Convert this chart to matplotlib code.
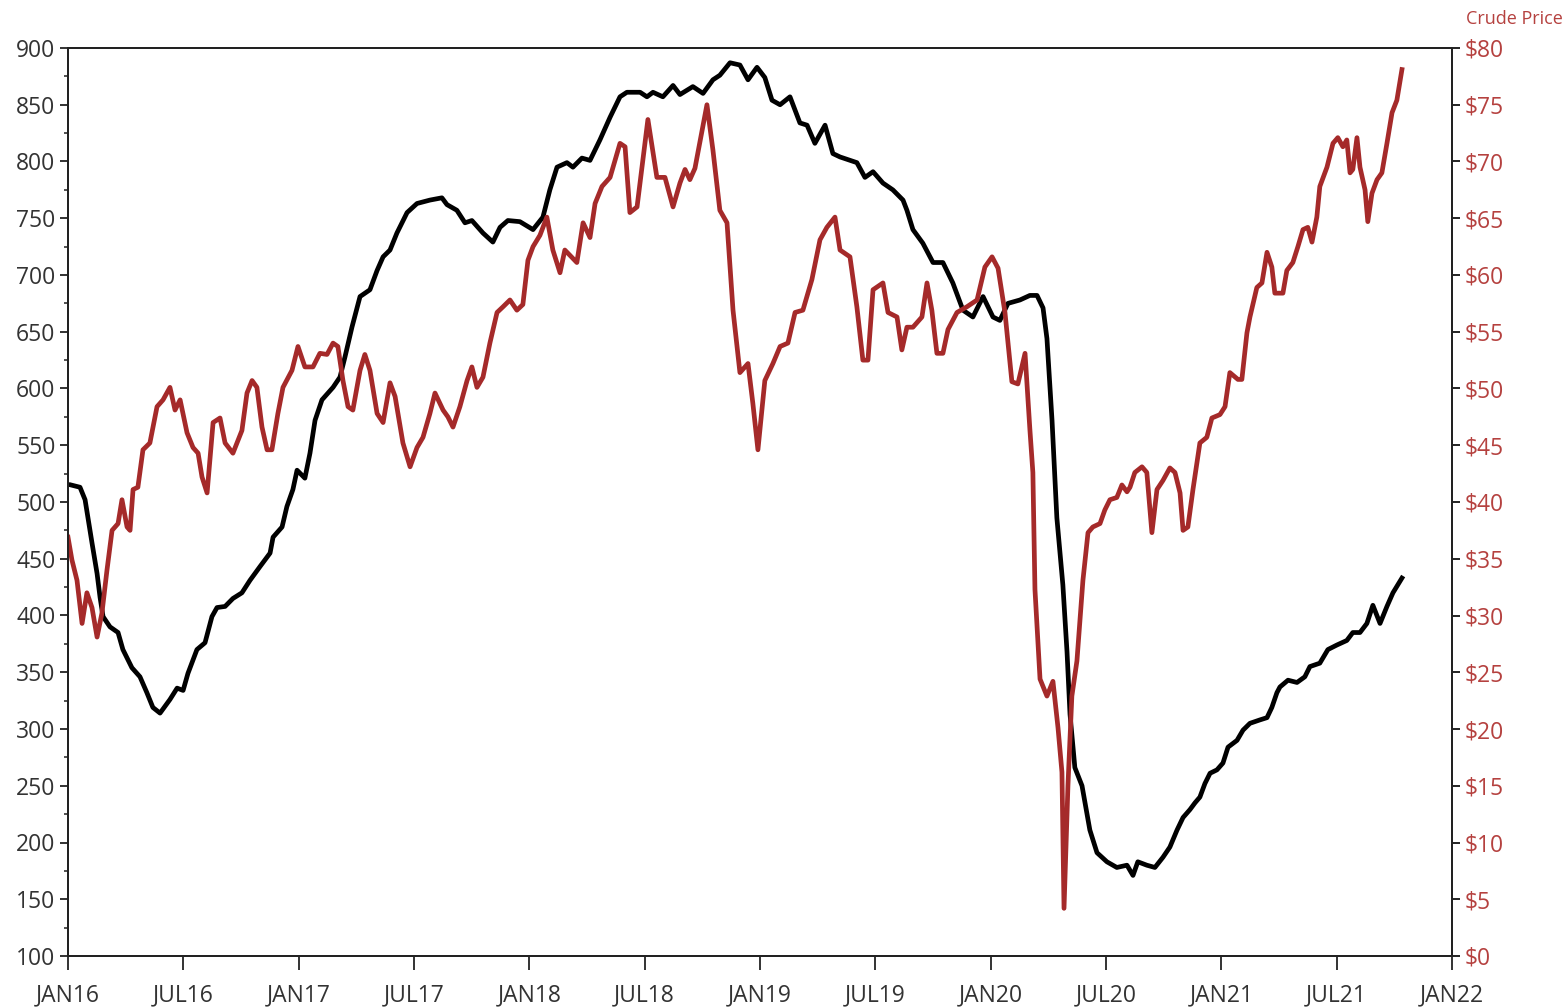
import matplotlib
matplotlib.use("Agg")
import matplotlib.pyplot as plt
from matplotlib.ticker import MultipleLocator, FuncFormatter

plt.rcParams['font.family'] = ['Open Sans', 'DejaVu Sans']

# ---- data (decimal year, value) ----
rig_t = [2016.013, 2016.052, 2016.074, 2016.104, 2016.126, 2016.139, 2016.152, 2016.182, 2016.217, 2016.238,
         2016.277, 2016.312, 2016.342, 2016.368, 2016.399, 2016.442, 2016.473, 2016.499, 2016.520, 2016.559,
         2016.594, 2016.624, 2016.646, 2016.681, 2016.715, 2016.754, 2016.789, 2016.832, 2016.876, 2016.889,
         2016.928, 2016.949, 2016.975, 2016.993, 2017.027, 2017.049, 2017.071, 2017.101, 2017.149, 2017.179,
         2017.201, 2017.231, 2017.266, 2017.309, 2017.340, 2017.366, 2017.396, 2017.426, 2017.470, 2017.513,
         2017.569, 2017.621, 2017.643, 2017.686, 2017.721, 2017.751, 2017.799, 2017.842, 2017.873, 2017.907,
         2017.959, 2018.016, 2018.059, 2018.089, 2018.120, 2018.163, 2018.189, 2018.228, 2018.263, 2018.306,
         2018.350, 2018.393, 2018.423, 2018.480, 2018.510, 2018.536, 2018.579, 2018.623, 2018.653, 2018.709,
         2018.753, 2018.796, 2018.826, 2018.870, 2018.913, 2018.948, 2018.987, 2019.021, 2019.052, 2019.087,
         2019.130, 2019.173, 2019.204, 2019.238, 2019.282, 2019.316, 2019.347, 2019.420, 2019.455, 2019.490,
         2019.533, 2019.576, 2019.620, 2019.637, 2019.663, 2019.706, 2019.750, 2019.793, 2019.836, 2019.880,
         2019.923, 2019.967, 2020.010, 2020.040, 2020.075, 2020.127, 2020.170, 2020.201, 2020.227, 2020.244,
         2020.266, 2020.287, 2020.313, 2020.331, 2020.344, 2020.365, 2020.396, 2020.430, 2020.461, 2020.504,
         2020.547, 2020.591, 2020.617, 2020.638, 2020.677, 2020.712, 2020.747, 2020.777, 2020.808, 2020.834,
         2020.864, 2020.886, 2020.907, 2020.929, 2020.951, 2020.981, 2021.007, 2021.029, 2021.068, 2021.094,
         2021.124, 2021.167, 2021.198, 2021.219, 2021.241, 2021.254, 2021.289, 2021.328, 2021.362, 2021.384,
         2021.427, 2021.462, 2021.501, 2021.544, 2021.570, 2021.601, 2021.631, 2021.657, 2021.688, 2021.718,
         2021.744, 2021.783]
rig_count = [515, 513, 502, 464, 437, 416, 399, 390, 385, 370,
             354, 346, 332, 319, 314, 326, 336, 334, 349, 370,
             376, 399, 407, 408, 415, 420, 431, 443, 455, 469,
             478, 496, 511, 528, 521, 543, 572, 590, 601, 610,
             628, 654, 681, 687, 704, 716, 722, 737, 755, 763,
             766, 768, 762, 757, 746, 748, 737, 729, 742, 748,
             747, 740, 751, 775, 795, 799, 795, 803, 801, 819,
             839, 857, 861, 861, 857, 861, 857, 867, 859, 866,
             860, 872, 876, 887, 885, 872, 883, 874, 854, 850,
             857, 834, 832, 816, 832, 807, 804, 799, 786, 791,
             781, 775, 766, 757, 740, 728, 711, 711, 693, 669,
             663, 681, 663, 660, 675, 678, 682, 682, 671, 644,
             572, 486, 427, 368, 313, 266, 250, 211, 191, 183,
             178, 180, 171, 183, 180, 178, 187, 196, 211, 222,
             229, 235, 240, 252, 261, 264, 270, 284, 290, 299,
             305, 308, 310, 319, 332, 337, 343, 341, 346, 355,
             358, 370, 374, 378, 385, 385, 393, 409, 393, 408,
             420, 433]

crude_t = [2016.000, 2016.017, 2016.039, 2016.061, 2016.082, 2016.104, 2016.126, 2016.147, 2016.169, 2016.191,
           2016.217, 2016.234, 2016.256, 2016.269, 2016.282, 2016.303, 2016.325, 2016.355, 2016.386, 2016.412,
           2016.442, 2016.464, 2016.486, 2016.516, 2016.542, 2016.564, 2016.581, 2016.603, 2016.629, 2016.659,
           2016.681, 2016.715, 2016.754, 2016.776, 2016.798, 2016.819, 2016.841, 2016.863, 2016.884, 2016.910,
           2016.932, 2016.971, 2016.997, 2017.027, 2017.062, 2017.092, 2017.123, 2017.149, 2017.170, 2017.192,
           2017.214, 2017.235, 2017.266, 2017.287, 2017.309, 2017.340, 2017.366, 2017.396, 2017.418, 2017.452,
           2017.483, 2017.513, 2017.539, 2017.569, 2017.591, 2017.626, 2017.647, 2017.669, 2017.699, 2017.730,
           2017.751, 2017.773, 2017.799, 2017.829, 2017.860, 2017.886, 2017.916, 2017.946, 2017.972, 2017.994,
           2018.016, 2018.046, 2018.076, 2018.102, 2018.133, 2018.154, 2018.206, 2018.233, 2018.263, 2018.285,
           2018.315, 2018.350, 2018.393, 2018.415, 2018.436, 2018.467, 2018.514, 2018.553, 2018.588, 2018.623,
           2018.653, 2018.675, 2018.696, 2018.718, 2018.770, 2018.796, 2018.826, 2018.857, 2018.883, 2018.913,
           2018.948, 2018.969, 2018.991, 2019.021, 2019.056, 2019.087, 2019.121, 2019.152, 2019.186, 2019.225,
           2019.260, 2019.290, 2019.325, 2019.347, 2019.390, 2019.420, 2019.446, 2019.468, 2019.490, 2019.533,
           2019.555, 2019.594, 2019.615, 2019.637, 2019.663, 2019.702, 2019.724, 2019.745, 2019.767, 2019.793,
           2019.815, 2019.854, 2019.897, 2019.941, 2019.975, 2020.006, 2020.032, 2020.062, 2020.092, 2020.118,
           2020.149, 2020.170, 2020.183, 2020.192, 2020.214, 2020.244, 2020.270, 2020.292, 2020.309, 2020.318,
           2020.335, 2020.352, 2020.374, 2020.400, 2020.422, 2020.443, 2020.474, 2020.495, 2020.517, 2020.547,
           2020.569, 2020.591, 2020.604, 2020.625, 2020.656, 2020.677, 2020.699, 2020.721, 2020.747, 2020.777,
           2020.799, 2020.821, 2020.834, 2020.855, 2020.877, 2020.907, 2020.937, 2020.959, 2020.994, 2021.016,
           2021.037, 2021.072, 2021.089, 2021.111, 2021.124, 2021.154, 2021.176, 2021.198, 2021.219, 2021.232,
           2021.267, 2021.284, 2021.310, 2021.332, 2021.354, 2021.375, 2021.393, 2021.414, 2021.427, 2021.458,
           2021.484, 2021.505, 2021.527, 2021.544, 2021.558, 2021.570, 2021.588, 2021.601, 2021.623, 2021.635,
           2021.653, 2021.675, 2021.696, 2021.718, 2021.740, 2021.761, 2021.783]
crude_price = [36.9, 34.9, 33.1, 29.3, 32.0, 30.7, 28.1, 30.2, 34.0, 37.5,
               38.1, 40.2, 37.8, 37.5, 41.1, 41.3, 44.6, 45.2, 48.4, 49.0,
               50.1, 48.1, 49.0, 46.1, 44.8, 44.3, 42.2, 40.8, 47.0, 47.4,
               45.2, 44.3, 46.3, 49.6, 50.7, 50.1, 46.6, 44.6, 44.6, 47.8,
               50.1, 51.6, 53.7, 51.9, 51.9, 53.1, 53.0, 54.0, 53.7, 50.7,
               48.4, 48.1, 51.6, 53.0, 51.6, 47.8, 47.0, 50.5, 49.3, 45.2,
               43.1, 44.8, 45.7, 47.8, 49.6, 48.1, 47.5, 46.6, 48.4, 50.7,
               51.9, 50.1, 51.0, 54.0, 56.7, 57.2, 57.8, 56.9, 57.4, 61.3,
               62.5, 63.5, 65.1, 62.2, 60.2, 62.2, 61.1, 64.6, 63.3, 66.3,
               67.8, 68.6, 71.6, 71.3, 65.5, 66.0, 73.7, 68.6, 68.6, 66.0,
               68.1, 69.3, 68.4, 69.4, 75.0, 71.0, 65.7, 64.6, 56.9, 51.4,
               52.2, 48.7, 44.6, 50.7, 52.2, 53.7, 54.0, 56.7, 56.9, 59.6,
               63.1, 64.2, 65.1, 62.2, 61.6, 57.2, 52.5, 52.5, 58.7, 59.3,
               56.7, 56.3, 53.4, 55.4, 55.4, 56.3, 59.3, 56.9, 53.1, 53.1,
               55.2, 56.7, 57.2, 57.8, 60.7, 61.6, 60.6, 56.7, 50.6, 50.4,
               53.1, 46.4, 42.6, 32.3, 24.4, 22.9, 24.2, 20.1, 16.2, 4.2,
               15.0, 22.9, 26.0, 33.1, 37.3, 37.8, 38.1, 39.3, 40.2, 40.4,
               41.5, 40.9, 41.3, 42.6, 43.1, 42.6, 37.3, 41.1, 41.9, 43.0,
               42.6, 40.8, 37.5, 37.8, 41.1, 45.2, 45.7, 47.4, 47.7, 48.4,
               51.4, 50.8, 50.8, 54.9, 56.3, 58.9, 59.3, 62.0, 60.7, 58.4,
               58.4, 60.4, 61.1, 62.5, 64.0, 64.2, 62.9, 65.1, 67.8, 69.5,
               71.6, 72.1, 71.3, 71.9, 69.0, 69.3, 72.1, 69.5, 67.5, 64.7,
               67.2, 68.4, 69.0, 71.6, 74.3, 75.4, 78.1]

x_tick_pos = [2016.0, 2016.5, 2017.0, 2017.5, 2018.0, 2018.5, 2019.0, 2019.5,
              2020.0, 2020.5, 2021.0, 2021.5, 2022.0]
x_tick_labels = ['JAN16', 'JUL16', 'JAN17', 'JUL17', 'JAN18', 'JUL18', 'JAN19', 'JUL19',
                 'JAN20', 'JUL20', 'JAN21', 'JUL21', 'JAN22']

RED = '#a52a2a'
LABEL_RED = '#b5413f'
GRAY = '#333333'

fig = plt.figure(figsize=(15.66, 10.08), dpi=100)
ax = fig.add_axes([68/1566, 1-956/1008, (1452-68)/1566, (956-48)/1008])
ax2 = ax.twinx()

ax.plot(rig_t, rig_count, color='black', lw=3.4, solid_joinstyle='round')
ax2.plot(crude_t, crude_price, color=RED, lw=3.4, solid_joinstyle='round')

ax.set_xlim(2016.0, 2022.0)
ax.set_ylim(100, 900)
ax2.set_ylim(0, 80)

ax.set_xticks(x_tick_pos)
ax.set_xticklabels(x_tick_labels)
ax.yaxis.set_major_locator(MultipleLocator(50))
ax.yaxis.set_minor_locator(MultipleLocator(25))
ax2.yaxis.set_major_locator(MultipleLocator(5))
ax2.yaxis.set_major_formatter(FuncFormatter(lambda v, p: f'${v:.0f}'))

for a in (ax, ax2):
    for s in a.spines.values():
        s.set_color('#222222')
        s.set_linewidth(1.4)

ax.tick_params(axis='x', which='major', length=10, width=1.4, pad=10,
               labelsize=16.5, colors=GRAY)
ax.tick_params(axis='y', which='major', length=6, width=1.4, pad=3,
               labelsize=16.5, colors=GRAY)
ax.tick_params(axis='y', which='minor', length=3, width=1.2, colors=GRAY)
ax2.tick_params(axis='y', which='major', length=6, width=1.4, pad=3,
                labelsize=16.5, colors='#222222', labelcolor=LABEL_RED)

fig.text(1466/1566, 1-19/1008, 'Crude Price', color=LABEL_RED, fontsize=13,
         ha='left', va='center')

fig.savefig('out.png', dpi=100, facecolor='white')
